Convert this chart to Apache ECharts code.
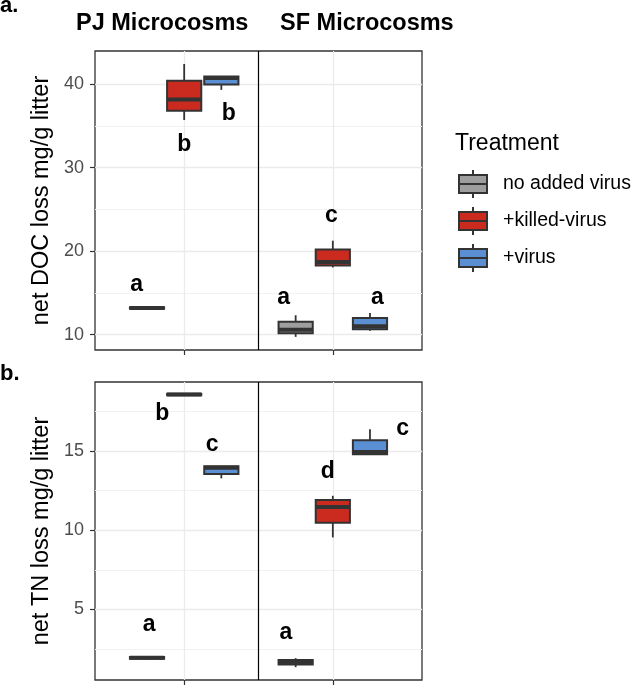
<!DOCTYPE html>
<html>
<head>
<meta charset="utf-8">
<script src="https://cdn.jsdelivr.net/npm/echarts@6/dist/echarts.min.js"></script>
<style>
  html, body { margin: 0; padding: 0; background: #fff; }
  #chart { width: 632px; height: 687px; }
</style>
</head>
<body>
<div id="chart"></div>
<script>
// sites sit at x = 1 and x = 2 on a numeric axis
const sites = ['PJ Microcosms', 'SF Microcosms']
const siteX = [1, 2]
const treatments = ['no added virus', '+killed-virus', '+virus']

// box stats per site: [lower whisker, Q1, median, Q3, upper whisker]
const docNone   = [[13.05, 13.1, 13.2, 13.28, 13.3], [9.74, 10.18, 10.6, 11.55, 12.33]]
const docKilled = [[35.7, 36.8, 38.15, 40.4, 42.4], [18.05, 18.27, 18.7, 20.2, 21.25]]
const docVirus  = [[39.3, 39.95, 40.72, 40.9, 40.9], [10.46, 10.66, 11.0, 12.0, 12.6]]

const tnNone   = [[1.85, 1.88, 1.95, 2.0, 2.02], [1.35, 1.52, 1.65, 1.8, 1.92]]
const tnKilled = [[18.5, 18.53, 18.58, 18.63, 18.66], [9.55, 10.48, 11.47, 11.91, 12.18]]
const tnVirus  = [[13.28, 13.55, 13.95, 14.05, 14.05], [14.8, 14.8, 14.95, 15.69, 16.39]]

// significance letters (x, y in data units)
const docLetters = ['a', 'b', 'b', 'a', 'c', 'a']
const docLetterX = [0.68, 1.0, 1.3, 1.67, 1.99, 2.3]
const docLetterY = [15.95, 32.75, 36.5, 14.4, 24.2, 14.4]
const tnLetters = ['a', 'b', 'c', 'a', 'd', 'c']
const tnLetterX = [0.764, 0.852, 1.188, 1.684, 1.966, 2.47]
const tnLetterY = [4.05, 17.35, 15.42, 3.55, 13.7, 16.45]

const docTicks = [10, 20, 30, 40]
const docMinor = [15, 25, 35]
const tnTicks = [5, 10, 15]
const tnMinor = [2.5, 7.5, 12.5, 17.5]

const colors = ['#9E9E9E', '#CB2A1F', '#5A8FD4']
const EDGE = '#333333'
const BOX_W = 0.23
const dodge = [-0.25, 0, 0.25]
const FONT = '"Liberation Sans", Arial, Helvetica, sans-serif'

function renderBox(params, api) {
    const x = api.value(0)
    const lo = api.coord([x, api.value(1)])
    const q1 = api.coord([x, api.value(2)])
    const md = api.coord([x, api.value(3)])
    const q3 = api.coord([x, api.value(4)])
    const hi = api.coord([x, api.value(5)])
    const xl = api.coord([x - BOX_W / 2, api.value(3)])[0]
    const xr = api.coord([x + BOX_W / 2, api.value(3)])[0]
    const line = { stroke: EDGE, lineWidth: 1.8 }
    return {
        type: 'group',
        children: [
            { type: 'line', shape: { x1: lo[0], y1: lo[1], x2: q1[0], y2: q1[1] }, style: line },
            { type: 'line', shape: { x1: q3[0], y1: q3[1], x2: hi[0], y2: hi[1] }, style: line },
            { type: 'rect', shape: { x: xl, y: q3[1], width: xr - xl, height: q1[1] - q3[1] },
              style: { fill: api.visual('color'), stroke: EDGE, lineWidth: 2 } },
            { type: 'line', shape: { x1: xl, y1: md[1], x2: xr, y2: md[1] },
              style: { stroke: EDGE, lineWidth: 4 } }
        ]
    }
}

function letterSeries(gridIdx, letters, xs, ys) {
    return {
        name: 'letters' + gridIdx,
        type: 'custom',
        xAxisIndex: gridIdx,
        yAxisIndex: gridIdx * 2,
        silent: true,
        data: xs.map((x, i) => [x, ys[i]]),
        renderItem: (params, api) => {
            const p = api.coord([api.value(0), api.value(1)])
            return {
                type: 'text', x: p[0], y: p[1],
                style: { text: letters[params.dataIndex], font: 'bold 23px ' + FONT,
                         fill: '#000', align: 'center', verticalAlign: 'middle' }
            }
        },
        markLine: {
            silent: true, symbol: 'none', label: { show: false },
            lineStyle: { color: '#000', width: 1.2, type: 'solid' },
            data: [{ xAxis: 1.5 }]
        },
        z: 5
    }
}

function boxSeries(gridIdx, stats, t) {
    return {
        name: treatments[t],
        type: 'custom',
        xAxisIndex: gridIdx,
        yAxisIndex: gridIdx * 2,
        itemStyle: { color: colors[t] },
        encode: { x: 0, y: [1, 2, 3, 4, 5] },
        data: stats.map((s, i) => [siteX[i] + dodge[t]].concat(s)),
        renderItem: renderBox,
        z: 3
    }
}

function xAxisOpt(gridIdx) {
    return {
        type: 'value', gridIndex: gridIdx, min: 0.4, max: 2.6,
        axisLine: { show: false },
        axisTick: { show: true, length: 5, customValues: siteX, lineStyle: { color: EDGE, width: 1.2 } },
        axisLabel: { show: false, customValues: siteX },
        splitLine: { show: true, lineStyle: { color: '#EBEBEB', width: 1.3 } }
    }
}

function yAxisOpts(gridIdx, min, max, ticks, minor, name) {
    return [{
        type: 'value', gridIndex: gridIdx, min: min, max: max,
        name: name, nameLocation: 'middle', nameGap: 36, nameRotate: 90,
        nameTextStyle: { fontSize: 23.5, color: '#000', fontFamily: FONT },
        axisLine: { show: false },
        axisTick: { show: true, length: 5, customValues: ticks, lineStyle: { color: EDGE, width: 1.2 } },
        axisLabel: { customValues: ticks, fontSize: 18, color: '#4D4D4D', margin: 11, fontFamily: FONT },
        splitLine: { show: true, lineStyle: { color: '#EBEBEB', width: 1.3 } }
    }, {
        type: 'value', gridIndex: gridIdx, min: min, max: max, position: 'right',
        axisLine: { show: false },
        axisTick: { show: false, customValues: minor },
        axisLabel: { show: false, customValues: minor },
        splitLine: { show: true, lineStyle: { color: '#F2F2F2', width: 1 } }
    }]
}

const myChart = echarts.init(document.getElementById('chart'), null, { renderer: 'canvas' })

const legendIcon = 'path://M0,5 L28,5 L28,23 L0,23 Z M0,14 L28,14 M14,0 L14,5 M14,23 L14,28'

const option = {
    animation: false,
    backgroundColor: '#fff',
    textStyle: { fontFamily: FONT },
    title: [
        { text: 'a.', left: 0, top: -5, padding: 0, textStyle: { fontSize: 22, fontWeight: 'bold', color: '#000' } },
        { text: sites[0], left: 76, top: 12, padding: 0, textStyle: { fontSize: 23.5, fontWeight: 'bold', color: '#000' } },
        { text: sites[1], left: 280, top: 12, padding: 0, textStyle: { fontSize: 23.5, fontWeight: 'bold', color: '#000' } },
        { text: 'b.', left: 0, top: 363, padding: 0, textStyle: { fontSize: 22, fontWeight: 'bold', color: '#000' } },
        { text: 'Treatment', left: 455, top: 132, padding: 0, textStyle: { fontSize: 23, fontWeight: 'normal', color: '#000' } }
    ],
    legend: {
        data: treatments,
        orient: 'vertical',
        left: 458, top: 169, padding: 0,
        itemWidth: 28, itemHeight: 28, itemGap: 7,
        icon: legendIcon,
        itemStyle: { borderColor: EDGE, borderWidth: 2 },
        textStyle: { fontSize: 19.5, color: '#000', padding: [0, 0, 0, 11], fontFamily: FONT },
        selectedMode: false
    },
    grid: [
        { left: 95, top: 51, width: 327, height: 299, show: true, borderColor: EDGE, borderWidth: 1.3, backgroundColor: '#fff' },
        { left: 95, top: 382, width: 327, height: 298, show: true, borderColor: EDGE, borderWidth: 1.3, backgroundColor: '#fff' }
    ],
    xAxis: [xAxisOpt(0), xAxisOpt(1)],
    yAxis: yAxisOpts(0, 8.17, 43.95, docTicks, docMinor, 'net DOC loss mg/g litter')
        .concat(yAxisOpts(1, 0.54, 19.37, tnTicks, tnMinor, 'net TN loss mg/g litter')),
    series: [
        boxSeries(0, docNone, 0),
        boxSeries(0, docKilled, 1),
        boxSeries(0, docVirus, 2),
        boxSeries(1, tnNone, 0),
        boxSeries(1, tnKilled, 1),
        boxSeries(1, tnVirus, 2),
        letterSeries(0, docLetters, docLetterX, docLetterY),
        letterSeries(1, tnLetters, tnLetterX, tnLetterY)
    ]
}

option && myChart.setOption(option)

window.onresize = () => {
    myChart.resize()
}
</script>
</body>
</html>
